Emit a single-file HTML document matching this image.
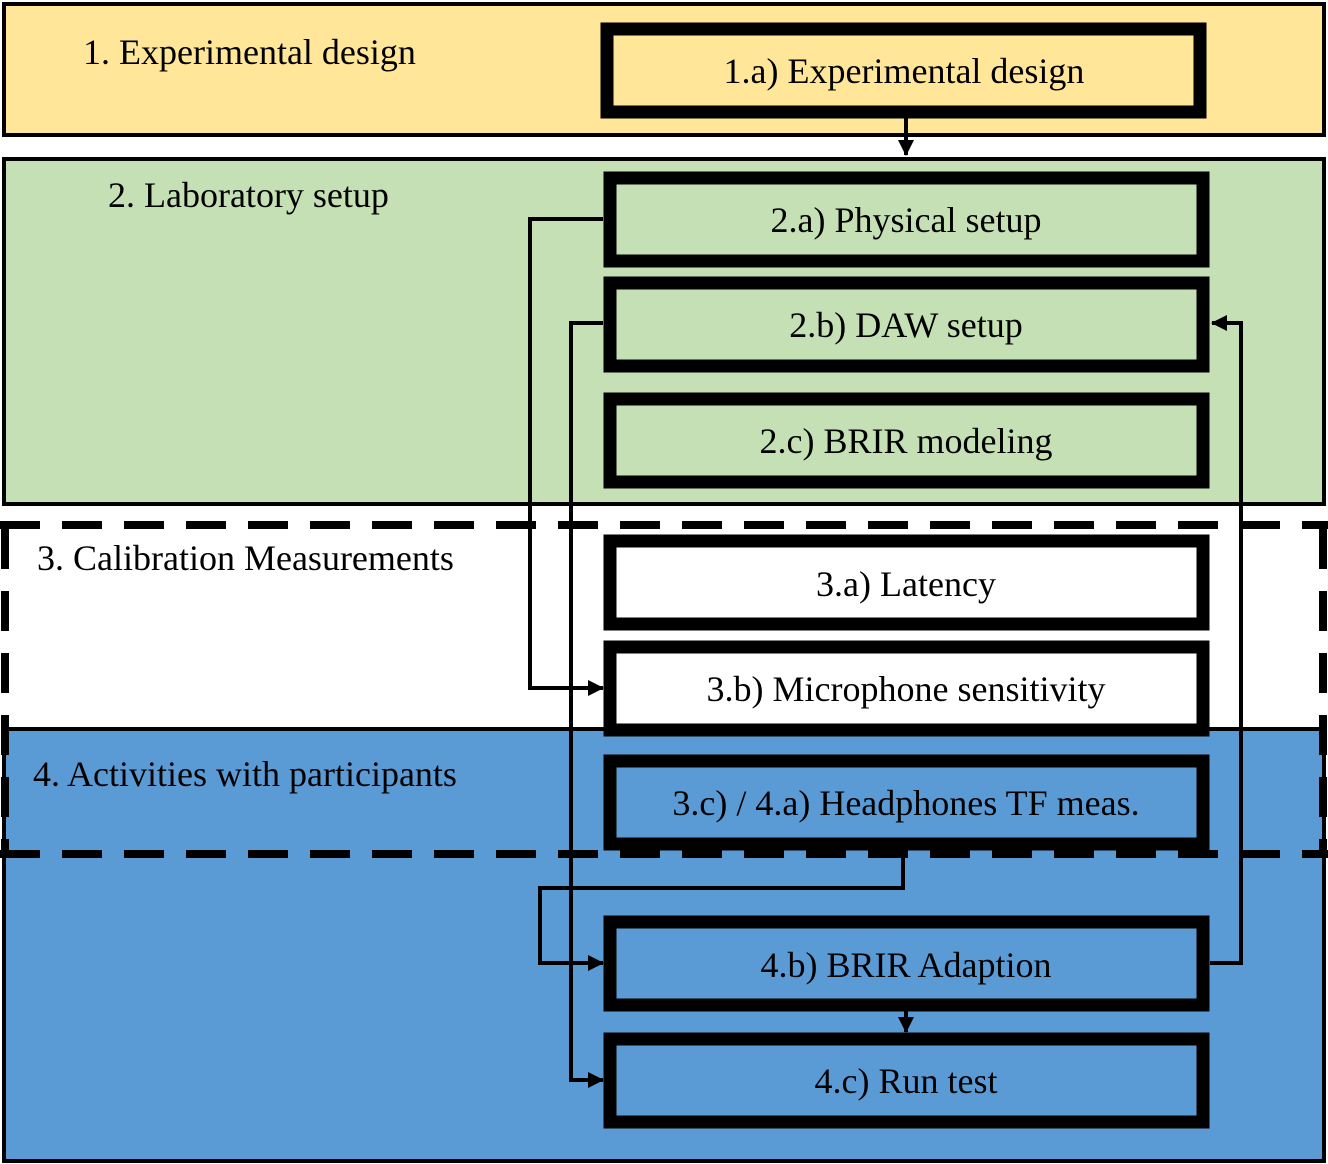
<!DOCTYPE html>
<html><head><style>html,body{margin:0;padding:0;background:#fff}svg{display:block}text{font-family:"Liberation Serif","Times New Roman",serif;font-size:36px}</style></head>
<body>
<svg width="1328" height="1164" viewBox="0 0 1328 1164" xmlns="http://www.w3.org/2000/svg">
<defs>
<marker id="b" markerWidth="16" markerHeight="16" refX="15" refY="8" orient="auto" markerUnits="userSpaceOnUse"><path d="M0,0 L16,8 L0,16 z" fill="#000"/></marker></defs>
<rect x="4" y="4" width="1320" height="131" fill="#FFE699" stroke="#000" stroke-width="4"/>
<rect x="4" y="159" width="1320" height="345" fill="#C5E0B4" stroke="#000" stroke-width="4"/>
<rect x="4" y="729" width="1320" height="432" fill="#5B9BD5" stroke="#000" stroke-width="4"/>
<g fill="none" stroke="#000" stroke-width="8" stroke-dasharray="40,22">
<line x1="0" y1="525" x2="1328" y2="525"/><line x1="0" y1="854" x2="1328" y2="854"/>
<line x1="5" y1="529" x2="5" y2="854"/><line x1="1323" y1="529" x2="1323" y2="854"/></g>
<g stroke="#000" stroke-width="13">
<rect x="607" y="29" width="593" height="83" fill="#FFE699"/>
<rect x="610" y="178" width="593" height="83" fill="#C5E0B4"/>
<rect x="610" y="283" width="593" height="83" fill="#C5E0B4"/>
<rect x="610" y="399" width="593" height="83" fill="#C5E0B4"/>
<rect x="610" y="541" width="593" height="83" fill="#fff"/>
<rect x="610" y="647" width="593" height="83" fill="#fff"/>
<rect x="610" y="761" width="593" height="83" fill="#5B9BD5"/>
<rect x="610" y="922" width="593" height="83" fill="#5B9BD5"/>
<rect x="610" y="1039" width="593" height="83" fill="#5B9BD5"/>
</g>
<g fill="none" stroke="#000" stroke-width="4">
<line x1="906" y1="118" x2="906" y2="155" marker-end="url(#b)"/>
<polyline points="603,219 530,219 530,688 603,688" marker-end="url(#b)"/>
<polyline points="603,323 571,323 571,1080 603,1080" marker-end="url(#b)"/>
<polyline points="903,857 903,888 540,888 540,963 603,963" marker-end="url(#b)"/>
<polyline points="1210,963 1241,963 1241,323 1212,323" marker-end="url(#b)"/>
<line x1="906" y1="1011" x2="906" y2="1032" marker-end="url(#b)"/>
</g>
<g text-anchor="middle">
<text x="904" y="83">1.a) Experimental design</text>
<text x="906" y="232">2.a) Physical setup</text>
<text x="906" y="337">2.b) DAW setup</text>
<text x="906" y="453">2.c) BRIR modeling</text>
<text x="906" y="596">3.a) Latency</text>
<text x="906" y="701">3.b) Microphone sensitivity</text>
<text x="906" y="815">3.c) / 4.a) Headphones TF meas.</text>
<text x="906" y="977">4.b) BRIR Adaption</text>
<text x="906" y="1093">4.c) Run test</text>
</g>
<text x="83" y="64">1. Experimental design</text>
<text x="108" y="207">2. Laboratory setup</text>
<text x="37" y="570">3. Calibration Measurements</text>
<text x="33" y="786">4. Activities with participants</text>
</svg>
</body></html>
